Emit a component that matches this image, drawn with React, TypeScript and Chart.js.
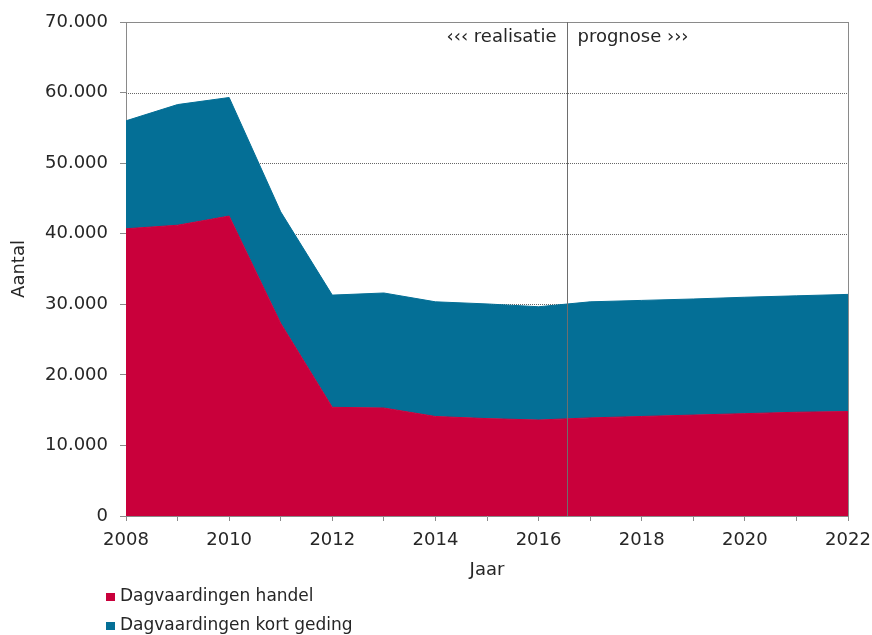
import React, { useEffect, useRef } from "react";
import { Chart, registerables } from "chart.js";

Chart.register(...registerables);

const years = [2008, 2009, 2010, 2011, 2012, 2013, 2014, 2015, 2016, 2017, 2018, 2019, 2020, 2021, 2022];
const handel = [40700, 41200, 42500, 27300, 15400, 15300, 14100, 13800, 13600, 13900, 14100, 14300, 14500, 14700, 14800];
const kortGeding = [15300, 17100, 16800, 15800, 15900, 16300, 16250, 16250, 16050, 16450, 16450, 16450, 16500, 16500, 16600];
const seriesNames = ["Dagvaardingen handel", "Dagvaardingen kort geding"];
const seriesColors = ["#C9003B", "#046F96"];
const gridValues = [10000, 20000, 30000, 40000, 50000, 60000];
const splitYear = 2016.55;
const leftNote = "‹‹‹ realisatie";
const rightNote = "prognose ›››";
const xTitle = "Jaar";
const yTitle = "Aantal";

const FONT = "'DejaVu Sans', Verdana, sans-serif";
const TEXT = "#262626";
const AXIS = "#8a8a8a";

const fmt = (v: number) => (v === 0 ? "0" : Math.round(v / 1000) + ".000");

const decorPlugin = {
  id: "decor",
  beforeDatasetsDraw(chart: any) {
    const { ctx, chartArea } = chart;
    const y = chart.scales.y;
    ctx.save();
    ctx.strokeStyle = "#666";
    ctx.lineWidth = 1;
    ctx.setLineDash([1, 1]);
    gridValues.forEach((v) => {
      const py = Math.round(y.getPixelForValue(v)) + 0.5;
      ctx.beginPath();
      ctx.moveTo(chartArea.left, py);
      ctx.lineTo(chartArea.right, py);
      ctx.stroke();
    });
    ctx.restore();
  },
  afterDatasetsDraw(chart: any) {
    const { ctx, chartArea } = chart;
    const x = chart.scales.x;
    ctx.save();
    ctx.strokeStyle = AXIS;
    ctx.lineWidth = 1;
    ctx.beginPath();
    ctx.moveTo(chartArea.left, Math.round(chartArea.top) + 0.5);
    ctx.lineTo(chartArea.right, Math.round(chartArea.top) + 0.5);
    ctx.moveTo(Math.round(chartArea.right) + 0.5, chartArea.top);
    ctx.lineTo(Math.round(chartArea.right) + 0.5, chartArea.bottom);
    ctx.stroke();
    const sx = Math.round(x.getPixelForValue(splitYear)) + 0.5;
    ctx.strokeStyle = "#6e6e6e";
    ctx.beginPath();
    ctx.moveTo(sx, chartArea.top);
    ctx.lineTo(sx, chartArea.bottom);
    ctx.stroke();
    ctx.fillStyle = TEXT;
    ctx.font = "18px " + FONT;
    ctx.textBaseline = "middle";
    ctx.textAlign = "right";
    ctx.fillText(leftNote, sx - 11, chartArea.top + 15);
    ctx.textAlign = "left";
    ctx.fillText(rightNote, sx + 10, chartArea.top + 15);
    ctx.restore();
  },
  afterDraw(chart: any) {
    const { ctx } = chart;
    ctx.save();
    ctx.font = "17px " + FONT;
    ctx.textBaseline = "middle";
    ctx.textAlign = "left";
    const rows = [597, 626];
    chart.data.datasets.forEach((ds: any, i: number) => {
      const cy = rows[i];
      ctx.fillStyle = ds.backgroundColor;
      ctx.fillRect(106, cy - 4, 9, 8);
      ctx.fillStyle = TEXT;
      ctx.fillText(ds.label, 120, cy);
    });
    ctx.restore();
  },
};

export default function App() {
  const ref = useRef<HTMLCanvasElement | null>(null);
  useEffect(() => {
    if (!ref.current) return;
    const chart = new Chart(ref.current, {
      type: "line",
      data: {
        datasets: [
          {
            label: seriesNames[0],
            data: years.map((yr, i) => ({ x: yr, y: handel[i] })),
            backgroundColor: seriesColors[0],
            borderColor: seriesColors[0],
            borderWidth: 1,
            pointRadius: 0,
            tension: 0,
            fill: "origin",
          },
          {
            label: seriesNames[1],
            data: years.map((yr, i) => ({ x: yr, y: kortGeding[i] })),
            backgroundColor: seriesColors[1],
            borderColor: seriesColors[1],
            borderWidth: 1,
            pointRadius: 0,
            tension: 0,
            fill: "-1",
          },
        ],
      },
      options: {
        responsive: false,
        animation: false,
        devicePixelRatio: 1,
        layout: { padding: { left: 0, right: 24, top: 22, bottom: 0 } },
        plugins: { legend: { display: false }, tooltip: { enabled: false } },
        scales: {
          x: {
            type: "linear",
            min: 2008,
            max: 2022,
            afterFit: (s: any) => {
              s.height = 119;
              s.paddingLeft = 0;
              s.paddingRight = 0;
            },
            ticks: {
              stepSize: 1,
              autoSkip: false,
              maxRotation: 0,
              padding: 9,
              color: TEXT,
              font: { family: FONT, size: 18 },
              callback: (v: any) => (Number(v) % 2 === 0 ? String(v) : ""),
            },
            grid: { drawOnChartArea: false, drawTicks: true, tickLength: 5, tickColor: AXIS, color: AXIS },
            border: { display: true, color: AXIS },
            title: {
              display: true,
              text: xTitle,
              color: TEXT,
              font: { family: FONT, size: 18 },
              padding: { top: 0, bottom: 54 },
            },
          },
          y: {
            stacked: true,
            min: 0,
            max: 70000,
            afterFit: (s: any) => {
              s.width = 126;
              s.paddingTop = 0;
              s.paddingBottom = 0;
            },
            ticks: {
              stepSize: 10000,
              padding: 12,
              color: TEXT,
              font: { family: FONT, size: 18 },
              callback: (v: any) => fmt(Number(v)),
            },
            grid: { drawOnChartArea: false, drawTicks: true, tickLength: 6, tickColor: AXIS, color: AXIS },
            border: { display: true, color: AXIS },
            title: {
              display: true,
              text: yTitle,
              color: TEXT,
              font: { family: FONT, size: 18 },
              padding: { top: 9, bottom: 0 },
            },
          },
        },
      },
      plugins: [decorPlugin],
    });
    return () => chart.destroy();
  }, []);
  return (
    <div style={{ position: "absolute", left: 0, top: 0, width: 872, height: 635, background: "#fff" }}>
      <canvas ref={ref} width={872} height={635} style={{ display: "block" }} />
    </div>
  );
}
